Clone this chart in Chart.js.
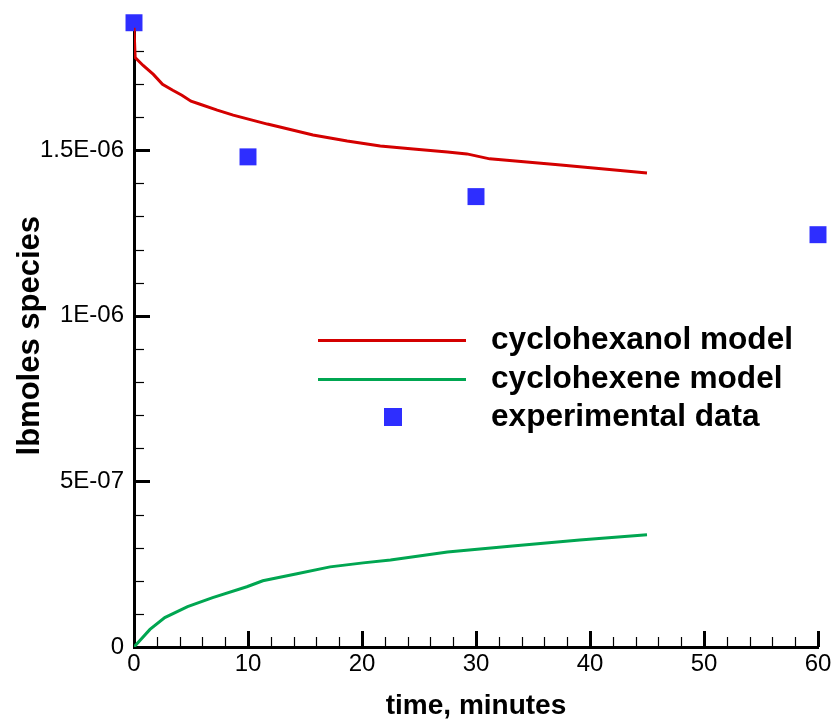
<!DOCTYPE html>
<html>
<head>
<meta charset="utf-8">
<title>lbmoles species vs time</title>
<script src="https://cdn.jsdelivr.net/npm/chart.js@4.4.0/dist/chart.umd.min.js"></script>
<style>
    html, body { margin: 0; padding: 0; background: #fff; }
    #wrap { width: 835px; height: 725px; }
</style>
</head>
<body>
<div id="wrap"><canvas id="speciesChart" width="835" height="725"></canvas></div>
<script>
// model curves (time in minutes, amount in lbmoles)
const alcoholTime = [0, 0.1, 0.8, 1.7, 2.5, 3.4, 4.2, 5, 5.8, 7.3, 8.7, 11.7, 12.8, 15.7, 18.7, 21.6, 24.5, 27.5, 29.2, 31.2, 33.2, 37.2, 41, 45];
const alcoholModel = [1.87e-6, 1.78e-6, 1.756e-6, 1.729e-6, 1.699e-6, 1.681e-6, 1.666e-6, 1.648e-6, 1.639e-6, 1.621e-6, 1.606e-6, 1.579e-6, 1.570e-6, 1.546e-6, 1.528e-6, 1.513e-6, 1.504e-6, 1.495e-6, 1.489e-6, 1.474e-6, 1.468e-6, 1.456e-6, 1.444e-6, 1.431e-6];

const alkeneTime = [0, 1.4, 2.7, 4.7, 6.9, 9.9, 11.3, 14.3, 17.2, 20.1, 22.5, 27.5, 33.2, 39.1, 45];
const alkeneModel = [0, 0.053e-6, 0.089e-6, 0.122e-6, 0.149e-6, 0.182e-6, 0.200e-6, 0.221e-6, 0.242e-6, 0.254e-6, 0.263e-6, 0.287e-6, 0.305e-6, 0.323e-6, 0.339e-6];

// measured samples
const sampleTime = [0, 10, 30, 60];
const sampleValue = [1.885e-6, 1.48e-6, 1.36e-6, 1.245e-6];

const seriesNames = ['cyclohexanol model', 'cyclohexene model', 'experimental data'];
const seriesColors = ['#d40000', '#00a651', '#2e2eff'];

const FONT = '"Liberation Sans", Arial, Helvetica, sans-serif';

function toPoints(xs, ys) {
    return xs.map((x, i) => ({ x: x, y: ys[i] }));
}

// 5e-7 -> "5E-07", 1.5e-6 -> "1.5E-06"
function sciLabel(v) {
    if (Math.abs(v) < 1e-12) return '0';
    const e = Math.floor(Math.log10(v) + 1e-9);
    const m = +(v / Math.pow(10, e)).toFixed(2);
    return m + 'E' + (e < 0 ? '-' : '+') + String(Math.abs(e)).padStart(2, '0');
}

function isMajorY(v) {
    const k = v / 5e-7;
    return Math.abs(k - Math.round(k)) < 1e-6;
}

// tick marks drawn inward from the axes, long for labelled ticks
const innerTicks = {
    id: 'innerTicks',
    beforeDatasetsDraw(chart) {
        const ctx = chart.ctx;
        const area = chart.chartArea;
        const xs = chart.scales.x, ys = chart.scales.y;
        ctx.save();
        ctx.strokeStyle = '#000';
        xs.ticks.forEach(t => {
            const major = t.value % 10 === 0;
            const px = Math.round(xs.getPixelForValue(t.value)) + 0.5;
            ctx.lineWidth = major ? 3 : 1.2;
            ctx.beginPath();
            ctx.moveTo(px, area.bottom);
            ctx.lineTo(px, area.bottom - (major ? 16 : 10));
            ctx.stroke();
        });
        ys.ticks.forEach(t => {
            const major = isMajorY(t.value);
            const py = Math.round(ys.getPixelForValue(t.value)) + 0.5;
            ctx.lineWidth = major ? 3 : 1.2;
            ctx.beginPath();
            ctx.moveTo(area.left, py);
            ctx.lineTo(area.left + (major ? 16 : 10), py);
            ctx.stroke();
        });
        ctx.restore();
    }
};

// legend block placed inside the plot
const boxLegend = {
    id: 'boxLegend',
    afterDraw(chart) {
        const ctx = chart.ctx;
        const rows = [340, 379, 417];
        ctx.save();
        ctx.font = 'bold 31.6px ' + FONT;
        ctx.textBaseline = 'alphabetic';
        ctx.textAlign = 'left';
        chart.data.datasets.forEach((ds, i) => {
            const y = rows[i];
            if (ds.showLine === false) {
                ctx.fillStyle = ds.backgroundColor;
                ctx.fillRect(384, y - 9, 18, 18);
            } else {
                ctx.strokeStyle = ds.borderColor;
                ctx.lineWidth = 3;
                ctx.beginPath();
                ctx.moveTo(318, y + 0.5);
                ctx.lineTo(466, y + 0.5);
                ctx.stroke();
            }
            ctx.fillStyle = '#000';
            ctx.fillText(ds.label, 491, y + 8.5);
        });
        ctx.restore();
    }
};

const ctx = document.querySelector('#speciesChart');

new Chart(ctx, {
    type: 'line',
    data: {
        datasets: [
            {
                label: seriesNames[0],
                data: toPoints(alcoholTime, alcoholModel),
                borderColor: seriesColors[0],
                borderWidth: 3,
                pointRadius: 0,
                tension: 0
            },
            {
                label: seriesNames[1],
                data: toPoints(alkeneTime, alkeneModel),
                borderColor: seriesColors[1],
                borderWidth: 3,
                pointRadius: 0,
                tension: 0
            },
            {
                label: seriesNames[2],
                data: toPoints(sampleTime, sampleValue),
                showLine: false,
                pointStyle: 'rect',
                pointRadius: 12,
                backgroundColor: seriesColors[2],
                borderColor: seriesColors[2],
                pointBorderWidth: 0,
                clip: false
            }
        ]
    },
    options: {
        responsive: false,
        animation: false,
        devicePixelRatio: 1,
        layout: { padding: { top: 22, right: 17, bottom: 0, left: 0 } },
        plugins: {
            legend: { display: false },
            tooltip: { enabled: false }
        },
        scales: {
            x: {
                type: 'linear',
                min: 0,
                max: 60,
                afterFit: s => { s.height = 78; },
                border: { color: '#000', width: 3 },
                grid: { display: true, drawOnChartArea: false, drawTicks: false },
                ticks: {
                    stepSize: 2,
                    autoSkip: false,
                    maxRotation: 0,
                    padding: 3,
                    color: '#000',
                    font: { family: FONT, size: 24 },
                    callback: v => (v % 10 === 0 ? String(v) : '')
                },
                title: {
                    display: true,
                    text: 'time, minutes',
                    color: '#000',
                    font: { family: FONT, size: 28, weight: 'bold' },
                    padding: { top: 0, bottom: 2 }
                }
            },
            y: {
                type: 'linear',
                min: 0,
                max: 1.88e-6,
                afterFit: s => { s.width = 134; },
                border: { color: '#000', width: 3 },
                grid: { display: true, drawOnChartArea: false, drawTicks: false },
                ticks: {
                    stepSize: 1e-7,
                    includeBounds: false,
                    autoSkip: false,
                    padding: 10,
                    color: '#000',
                    font: { family: FONT, size: 24 },
                    callback: v => (isMajorY(v) ? sciLabel(v) : '')
                },
                title: {
                    display: true,
                    text: 'lbmoles species',
                    color: '#000',
                    font: { family: FONT, size: 31, weight: 'bold' },
                    padding: { top: 12, bottom: 0 }
                }
            }
        }
    },
    plugins: [innerTicks, boxLegend]
});
</script>
</body>
</html>
